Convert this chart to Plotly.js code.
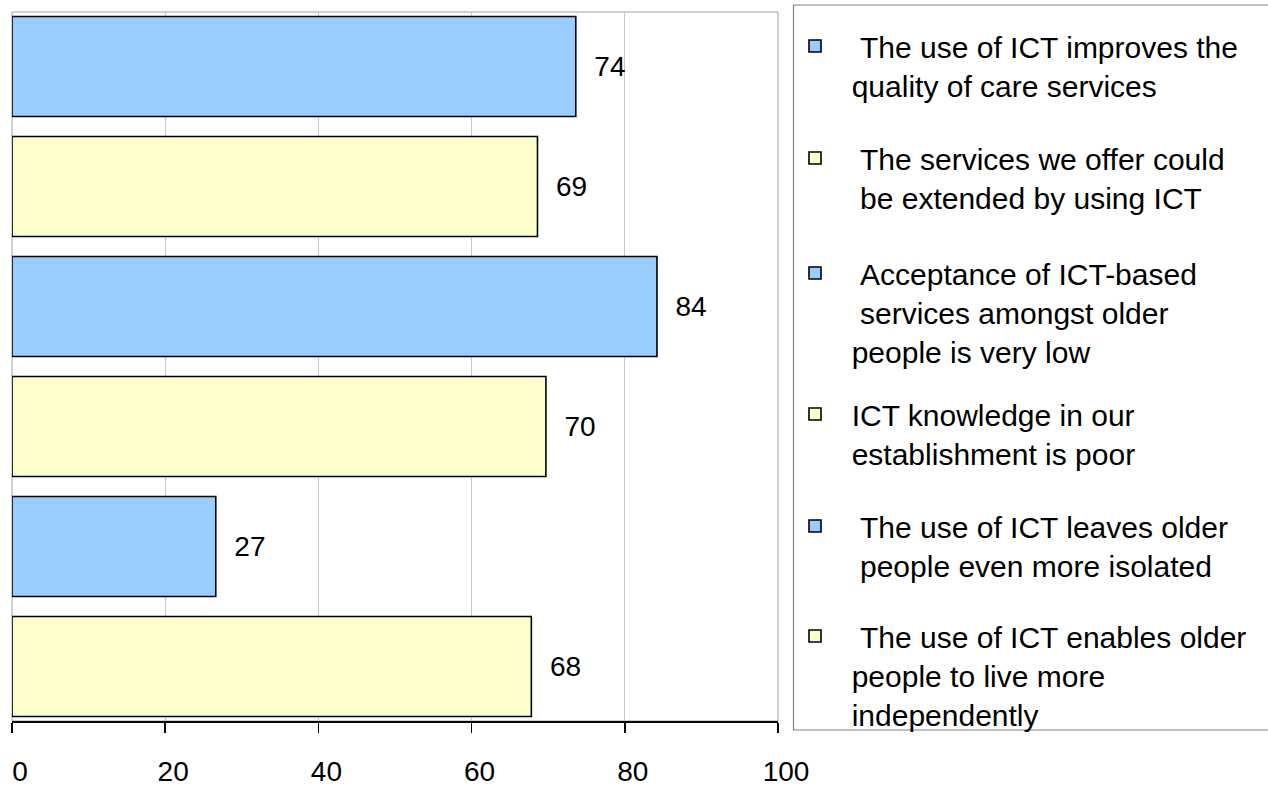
<!DOCTYPE html>
<html>
<head>
<meta charset="utf-8">
<script src="https://cdn.plot.ly/plotly-3.0.1.min.js"></script>
<style>
  html, body { margin: 0; padding: 0; background: #ffffff; }
  #chart { width: 1268px; height: 786px; }
</style>
</head>
<body>
<div id="chart"></div>
<script>
// ---- Data ----
const categories = [
  'The use of ICT improves the quality of care services',
  'The services we offer could be extended by using ICT',
  'Acceptance of ICT-based services amongst older people is very low',
  'ICT knowledge in our establishment is poor',
  'The use of ICT leaves older people even more isolated',
  'The use of ICT enables older people to live more independently'
];
const legendLines = [
  ['The use of ICT improves the', 'quality of care services'],
  ['The services we offer could', 'be extended by using ICT'],
  ['Acceptance of ICT-based', 'services amongst older', 'people is very low'],
  ['ICT knowledge in our', 'establishment is poor'],
  ['The use of ICT leaves older', 'people even more isolated'],
  ['The use of ICT enables older', 'people to live more', 'independently']
];
const values = [73.6, 68.6, 84.2, 69.7, 26.6, 67.8];
const tickValues = [0, 20, 40, 60, 80, 100];
const tickLabels = ['0', '20', '40', '60', '80', '100'];

// ---- Styles / layout helpers ----
const palette = ['#99CCFF', '#FFFFCC', '#99CCFF', '#FFFFCC', '#99CCFF', '#FFFFCC'];
const FONT = 'Liberation Sans, Arial, sans-serif';
const NB = n => '\u00a0'.repeat(n);
// leading indent (in non-breaking spaces) of each legend line, as in the original
const legendIndent = [[3, 2], [3, 3], [3, 3, 2], [2, 2], [3, 3], [3, 2, 2]];
const legendTops = [20, 132, 247, 388, 500, 610];
const plotTop = 12, plotBottom = 721, plotLeft = 12, plotRight = 778;
const H = plotBottom - plotTop, W = plotRight - plotLeft;
const py = p => (plotBottom - p) / H;
const px = p => (p - plotLeft) / W;

const legendLabels = legendLines.map((lines, i) =>
  lines.map((l, j) => NB(legendIndent[i][j]) + l).join('<br>'));

const traces = categories.map((c, i) => ({
  type: 'bar',
  orientation: 'h',
  y: [c],
  x: [values[i]],
  name: legendLabels[i],
  legend: i === 0 ? 'legend' : 'legend' + (i + 1),
  width: 0.833,
  marker: { color: palette[i], line: { color: '#000000', width: 1.6 } },
  texttemplate: NB(2) + '%{x:.0f}',
  textposition: 'outside',
  textfont: { family: FONT, size: 28, color: '#000000' },
  cliponaxis: false,
  hoverinfo: 'x+y'
}));

const layout = {
  width: 1268,
  height: 786,
  margin: { l: plotLeft, r: 1268 - plotRight, t: plotTop, b: 786 - plotBottom, pad: 0 },
  paper_bgcolor: '#ffffff',
  plot_bgcolor: '#ffffff',
  barmode: 'overlay',
  font: { family: FONT, color: '#000000' },
  xaxis: {
    range: [0, 100],
    tickvals: tickValues,
    ticktext: tickLabels,
    ticks: 'outside',
    ticklen: 10,
    tickwidth: 1.5,
    tickcolor: '#000000',
    ticklabelstandoff: 15,
    ticklabelshift: 8,
    ticklabeloverflow: 'allow',
    tickfont: { family: FONT, size: 28, color: '#000000' },
    showgrid: true,
    gridcolor: '#c8c8c8',
    gridwidth: 1,
    showline: true,
    linecolor: '#000000',
    linewidth: 1.5,
    zeroline: false,
    fixedrange: true
  },
  yaxis: {
    type: 'category',
    categoryorder: 'array',
    categoryarray: categories,
    range: [5.454, -0.454],
    showticklabels: false,
    ticks: '',
    showgrid: false,
    zeroline: false,
    showline: false,
    fixedrange: true
  },
  shapes: [
    { type: 'rect', xref: 'paper', yref: 'paper', x0: 0, x1: 1, y0: 0, y1: 1,
      line: { color: '#a0a0a0', width: 1 }, fillcolor: 'rgba(0,0,0,0)', layer: 'below' },
    { type: 'rect', xref: 'paper', yref: 'paper', x0: px(793.5), x1: px(1290), y0: py(730), y1: py(5),
      line: { color: '#808080', width: 1.2 }, fillcolor: 'rgba(0,0,0,0)', layer: 'below' }
  ],
  showlegend: true
};

legendTops.forEach((t, i) => {
  const key = i === 0 ? 'legend' : 'legend' + (i + 1);
  layout[key] = {
    x: px(795), y: py(t), xanchor: 'left', yanchor: 'top',
    bgcolor: 'rgba(0,0,0,0)', borderwidth: 0,
    valign: 'top',
    font: { family: FONT, size: 30, color: '#000000' }
  };
});

Plotly.newPlot('chart', traces, layout, { displayModeBar: false, staticPlot: true });
</script>
</body>
</html>
